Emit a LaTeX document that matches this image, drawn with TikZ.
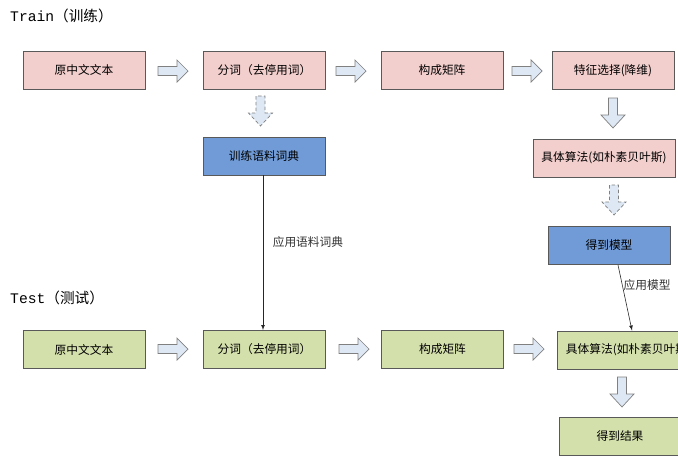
\documentclass[tikz,border=0pt]{standalone}
\usepackage{fontspec}
\setmainfont{Noto Sans CJK SC}
\newfontfamily\monofont{Liberation Mono}
\usepackage{tikz}
\usetikzlibrary{positioning,arrows}
\definecolor{trainpink}{RGB}{242,206,204}
\definecolor{dictblue}{RGB}{112,155,215}
\definecolor{testgreen}{RGB}{212,224,172}
\definecolor{arrowfill}{RGB}{222,232,244}
\tikzset{
  rarr/.pic={\draw[blockarr] (0,-4.5) -- (19,-4.5) -- (19,-11) -- (30,0) -- (19,11) -- (19,4.5) -- (0,4.5) -- cycle;},
  darr/.pic={\draw[blockarr] (-4.5,0) -- (-4.5,17) -- (-12,17) -- (0,30) -- (12,17) -- (4.5,17) -- (4.5,0) -- cycle;}
}

\begin{document}
\begin{tikzpicture}[x=0.03cm,y=-0.03cm]
\tikzstyle{box}=[rectangle, minimum width=3.66cm, minimum height=1.14cm, inner sep=0pt, draw=black!65, line width=0.8pt, font=\fontsize{10}{12}\selectfont]
\tikzstyle{train}=[box, fill=trainpink]
\tikzstyle{dict}=[box, fill=dictblue]
\tikzstyle{test}=[box, fill=testgreen]
\tikzstyle{wide}=[minimum width=4.26cm]
\tikzstyle{blockarr}=[draw=black!50, fill=arrowfill, line width=0.6pt, line join=miter]
\tikzstyle{blockdash}=[dash pattern=on 3pt off 2pt]
\tikzstyle{title}=[anchor=west, inner sep=0pt, font=\fontsize{12.5}{14}\selectfont]
\tikzstyle{label}=[anchor=west, inner sep=1pt, text=black!80, font=\fontsize{10}{12}\selectfont]
\tikzstyle{connect}=[-latex, draw=black!85, line width=0.5pt]
\clip (0,0) rectangle (678,469);
	\node[title] (train_t) at (10,16) {{\monofont Train}（训练）};
	\node[title] (test_t) at (10,298) {{\monofont Test}（测试）};

	\node[train] (tr_text) at (84,70) {原中文文本};
	\node[train] (tr_seg) at (264.5,70) {分词（去停用词）};
	\node[train] (tr_mat) at (442,70) {构成矩阵};
	\node[train] (tr_feat) at (613,70.5) {特征选择(降维)};
	\node[train,wide] (tr_alg) at (604,158) {具体算法(如朴素贝叶斯)};
	\node[dict] (dict) at (264,156) {训练语料词典};
	\node[dict] (model) at (609,245.5) {得到模型};

	\node[test] (te_text) at (84,349.5) {原中文文本};
	\node[test] (te_seg) at (264.5,349.5) {分词（去停用词）};
	\node[test] (te_mat) at (442.5,349.5) {构成矩阵};
	\node[test,wide,anchor=west] (te_alg) at (557,350) {具体算法(如朴素贝叶斯)};
	\node[test] (te_res) at (620,436) {得到结果};

	\pic at (158,71) {rarr};
	\pic at (336,71) {rarr};
	\pic at (512,71) {rarr};
	\pic[blockdash] at (260.5,96) {darr};
	\pic at (613,98) {darr};
	\pic[blockdash] at (614,185) {darr};

	\pic at (158,349) {rarr};
	\pic at (339,349) {rarr};
	\pic at (514,349) {rarr};
	\pic at (622,377) {darr};

	\path
		(dict.south -| 263,0) edge [connect] node[label, pos=0.43, xshift=0.25cm] {应用语料词典} (te_seg.north -| 263,0)
		([xshift=0.27cm]model.south) edge [connect] node[label, pos=0.3] {应用模型} (te_alg.north -| 632,0);
\end{tikzpicture}
\end{document}
